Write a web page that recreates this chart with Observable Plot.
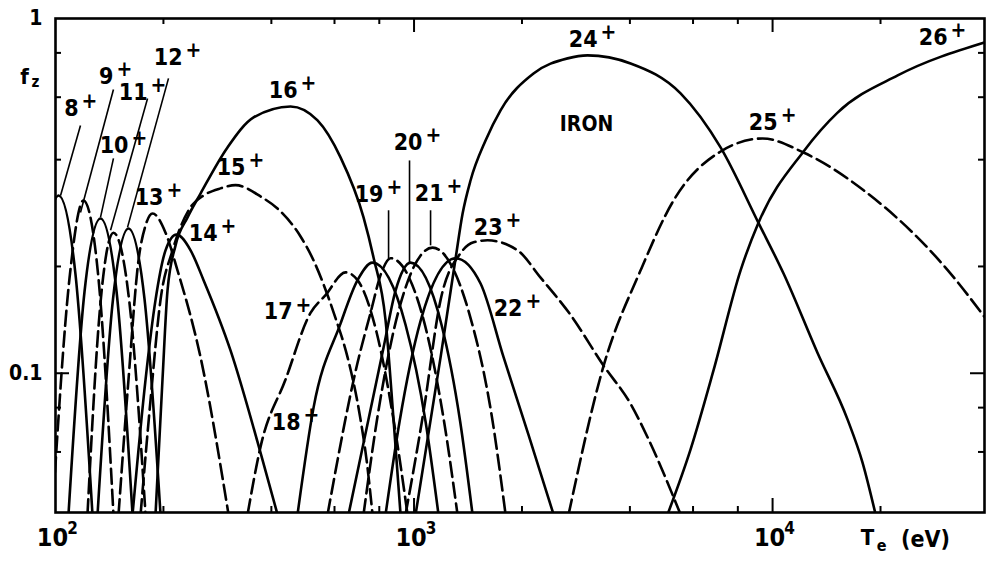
<!DOCTYPE html>
<html>
<head>
<meta charset="utf-8">
<script src="https://cdn.jsdelivr.net/npm/d3@7"></script>
<script src="https://cdn.jsdelivr.net/npm/@observablehq/plot@0.6"></script>
<style>
  html, body { margin: 0; padding: 0; background: #fff; }
  #chart svg { display: block; }
</style>
</head>
<body>
<div id="chart"></div>
<script>
// Fractional abundance f_z of iron charge states versus electron temperature T_e (eV).
// Each series is a list of [T_e, f_z] pairs.
const fe8  = [[85.2,0.04],[93.2,0.19],[102,0.317],[113.7,0.19],[126.8,0.04]];
const fe9  = [[98,0.04],[109.4,0.185],[119.7,0.307],[131.8,0.185],[145.1,0.04]];
const fe10 = [[108.7,0.04],[120.5,0.17],[133.5,0.273],[148,0.17],[164,0.04]];
const fe11 = [[122.8,0.04],[133.5,0.158],[145.1,0.249],[160.8,0.158],[178.3,0.04]];
const fe12 = [[131,0.04],[144.7,0.162],[159.8,0.256],[177.1,0.162],[196.3,0.04]];
const fe13 = [[149.9,0.04],[159.8,0.096],[170.4,0.208],[178.3,0.261],[186.5,0.282],[202.7,0.249],[218.9,0.195],[253.8,0.111],[303.8,0.04]];
const fe14 = [[164,0.04],[178.3,0.096],[190.1,0.161],[202.7,0.222],[217.5,0.246],[238.1,0.222],[258.8,0.183],[307.7,0.116],[377.9,0.057],[416.1,0.04]];
const fe15 = [[172.7,0.04],[184.1,0.084],[196.3,0.161],[212.1,0.222],[238.1,0.294],[258.8,0.317],[288.6,0.332],[317.8,0.339],[373.1,0.315],[424.2,0.286],[482.5,0.243],[524.5,0.208],[559.3,0.178],[604,0.143],[652.4,0.111],[709.3,0.074],[737.2,0.057],[766,0.04]];
const fe16 = [[190.1,0.04],[198.8,0.096],[205.3,0.171],[216.1,0.229],[233.5,0.275],[253.8,0.321],[301.8,0.433],[356.8,0.526],[452.4,0.565],[538.1,0.516],[623.7,0.406],[723,0.275],[770.9,0.212],[832.9,0.141],[876.7,0.074],[917,0.04]];
const fe17 = [[343.3,0.04],[373.1,0.062],[438.1,0.096],[514.4,0.148],[566.5,0.166],[644,0.1925],[695.7,0.183],[786.1,0.1305],[882.4,0.071],[959,0.04]];
const fe18 = [[473.2,0.04],[524.5,0.08],[623.7,0.138],[695.7,0.183],[766,0.205],[946.9,0.137],[1077,0.073],[1170,0.04]];
const fe19 = [[573.9,0.04],[695.7,0.107],[756.3,0.148],[811.6,0.1925],[860,0.211],[1066,0.14],[1213,0.073],[1322,0.04]];
const fe20 = [[656.6,0.04],[822,0.118],[888.1,0.171],[977.7,0.205],[1193,0.137],[1345,0.073],[1456,0.04]];
const fe21 = [[723,0.04],[790.1,0.075],[902.5,0.148],[1126,0.226],[1424,0.148],[1650,0.075],[1800,0.04]];
const fe22 = [[832.9,0.04],[911.1,0.073],[1042,0.14],[1306,0.211],[1533,0.179],[1777,0.111],[2086,0.067],[2450,0.04]];
const fe23 = [[946.9,0.04],[1063,0.078],[1186,0.161],[1348,0.218],[1466,0.234],[1603,0.237],[1945,0.222],[2254,0.186],[2733,0.146],[3379,0.105],[4018,0.082],[4480,0.066],[5539,0.04]];
const fe24 = [[1010,0.04],[1186,0.111],[1306,0.211],[1366,0.282],[1438,0.35],[1583,0.453],[1743,0.551],[2154,0.70],[2681,0.772],[3048,0.787],[4018,0.747],[5539,0.615],[7161,0.433],[9140,0.265],[10730,0.191],[13350,0.114],[16190,0.074],[17820,0.056],[19380,0.04]];
const fe25 = [[2698,0.04],[3379,0.105],[4284,0.195],[5295,0.307],[7253,0.425],[9378,0.459],[12200,0.419],[17940,0.328],[31370,0.191],[39030,0.144]];
const fe26 = [[5095,0.04],[5906,0.061],[6846,0.102],[8143,0.195],[9140,0.266],[12200,0.422],[15180,0.543],[22330,0.691],[39030,0.856]];

const charges = [8,9,10,11,12,13,14,15,16,17,18,19,20,21,22,23,24,25,26];
const seriesList = [fe8,fe9,fe10,fe11,fe12,fe13,fe14,fe15,fe16,fe17,fe18,fe19,fe20,fe21,fe22,fe23,fe24,fe25,fe26];

// Charge-state labels: number text ends at [T, f]; the "+" follows it.
const labelText = ["8","9","10","11","12","13","14","15","16","17","18","19","20","21","22","23","24","25","26"];
const labelT = [116,145.1,159.8,180.6,226.1,200.1,283.1,338.8,473.2,458.3,482.5,822,1056,1209,2007,1766,3251,10330,30770];
const labelF = [0.558,0.686,0.439,0.619,0.776,0.313,0.248,0.380,0.627,0.149,0.0728,0.319,0.447,0.321,0.152,0.258,0.873,0.509,0.884];

// Leader lines from a label down to its curve.
const leaderT1 = [117.4,145.1,145.1,180.6,206.6,849.1,971.4,1112];
const leaderF1 = [0.4995,0.631,0.4034,0.595,0.678,0.288,0.398,0.288];
const leaderT2 = [103.3,117.4,133.5,142.4,158.8,849.1,971.4,1112];
const leaderF2 = [0.317,0.284,0.275,0.253,0.2578,0.208,0.204,0.2294];

// Axis ticks and labels
const xMajorTicks = [1000, 10000];
const xMinorTicks = [200, 400, 600, 800, 2000, 4000, 6000, 8000, 20000];
const xLabelValues = [100, 1000, 10000];
const xLabelExponents = ["2", "3", "4"];
const yMajorTicks = [0.1];
const yMinorTicks = [0.06, 0.08, 0.2, 0.4, 0.6, 0.8];
const yLabelValues = [1, 0.1];
const yLabelText = ["1", "0.1"];

const width = 986, height = 562;
const marginLeft = 55, marginRight = 2, marginTop = 18, marginBottom = 50;
const plotW = width - marginLeft - marginRight;
const plotH = height - marginTop - marginBottom;

const rows = [];
charges.forEach((z, i) => {
  for (const [T, f] of seriesList[i]) rows.push({z, T, f});
});
const solidRows = rows.filter(d => d.z % 2 === 0);
const dashedRows = rows.filter(d => d.z % 2 === 1);

const labels = labelText.map((t, i) => ({t, T: labelT[i], f: labelF[i]}));
const leaders = leaderT1.map((t, i) => ({x1: t, y1: leaderF1[i], x2: leaderT2[i], y2: leaderF2[i]}));

const font = "'Liberation Sans Narrow','DejaVu Sans Condensed','Liberation Sans',sans-serif";
const major = 14, minor = 6;
const mid = {textAnchor: "middle", lineAnchor: "middle", fontWeight: "bold"};

const chart = Plot.plot({
  width, height, marginLeft, marginRight, marginTop, marginBottom,
  x: {type: "log", domain: [100, 39000], axis: null},
  y: {type: "log", domain: [0.0405, 1], axis: null},
  style: {fontFamily: font, fontWeight: "bold", background: "#fff", color: "#000"},
  marks: [
    Plot.line(solidRows, {x: "T", y: "f", z: "z", stroke: "#000", strokeWidth: 2.6, curve: "monotone-x", clip: true}),
    Plot.line(dashedRows, {x: "T", y: "f", z: "z", stroke: "#000", strokeWidth: 2.6, strokeDasharray: "15,6", curve: "monotone-x", clip: true}),
    Plot.link(leaders, {x1: "x1", y1: "y1", x2: "x2", y2: "y2", stroke: "#000", strokeWidth: 1.6}),
    Plot.frame({stroke: "#000", strokeWidth: 2.6}),
    // inward ticks on all four sides
    Plot.tickX(xMinorTicks, {x: d => d, insetTop: plotH - minor, strokeWidth: 2}),
    Plot.tickX(xMinorTicks, {x: d => d, insetBottom: plotH - minor, strokeWidth: 2}),
    Plot.tickX(xMajorTicks, {x: d => d, insetTop: plotH - major, strokeWidth: 2}),
    Plot.tickX(xMajorTicks, {x: d => d, insetBottom: plotH - major, strokeWidth: 2}),
    Plot.tickY(yMinorTicks, {y: d => d, insetRight: plotW - minor, strokeWidth: 2}),
    Plot.tickY(yMinorTicks, {y: d => d, insetLeft: plotW - minor, strokeWidth: 2}),
    Plot.tickY(yMajorTicks, {y: d => d, insetRight: plotW - major, strokeWidth: 2}),
    Plot.tickY(yMajorTicks, {y: d => d, insetLeft: plotW - major, strokeWidth: 2}),
    // tick labels
    Plot.text(xLabelValues, {x: d => d, frameAnchor: "bottom", dy: 25, dx: -3, text: () => "10", fontSize: 25, ...mid}),
    Plot.text(xLabelValues, {x: d => d, frameAnchor: "bottom", dy: 16, dx: 17, text: (d, i) => xLabelExponents[i], fontSize: 17, ...mid}),
    Plot.text(yLabelValues, {y: d => d, frameAnchor: "left", dx: -13, text: (d, i) => yLabelText[i], fontSize: 21, ...mid, textAnchor: "end"}),
    // axis titles
    Plot.text(["f"], {frameAnchor: "top-left", dx: -31, dy: 58, text: d => d, fontSize: 22, ...mid}),
    Plot.text(["z"], {frameAnchor: "top-left", dx: -20, dy: 64, text: d => d, fontSize: 15, ...mid}),
    Plot.text(["T"], {frameAnchor: "bottom-right", dx: -117, dy: 25, text: d => d, fontSize: 22, ...mid}),
    Plot.text(["e"], {frameAnchor: "bottom-right", dx: -103, dy: 33, text: d => d, fontSize: 16, ...mid}),
    Plot.text(["(eV)"], {frameAnchor: "bottom-right", dx: -59, dy: 27, text: d => d, fontSize: 23, ...mid}),
    // charge-state labels
    Plot.text(labels, {x: "T", y: "f", text: "t", textAnchor: "end", fontSize: 23, fontWeight: "bold"}),
    Plot.text(labels, {x: "T", y: "f", text: () => "+", textAnchor: "start", dx: 3, dy: -7, fontSize: 21, fontWeight: "bold"}),
    Plot.text(["IRON"], {x: () => 3028, y: () => 0.503, text: d => d, fontSize: 21, fontWeight: "bold"})
  ]
});
document.getElementById("chart").append(chart);
</script>
</body>
</html>
